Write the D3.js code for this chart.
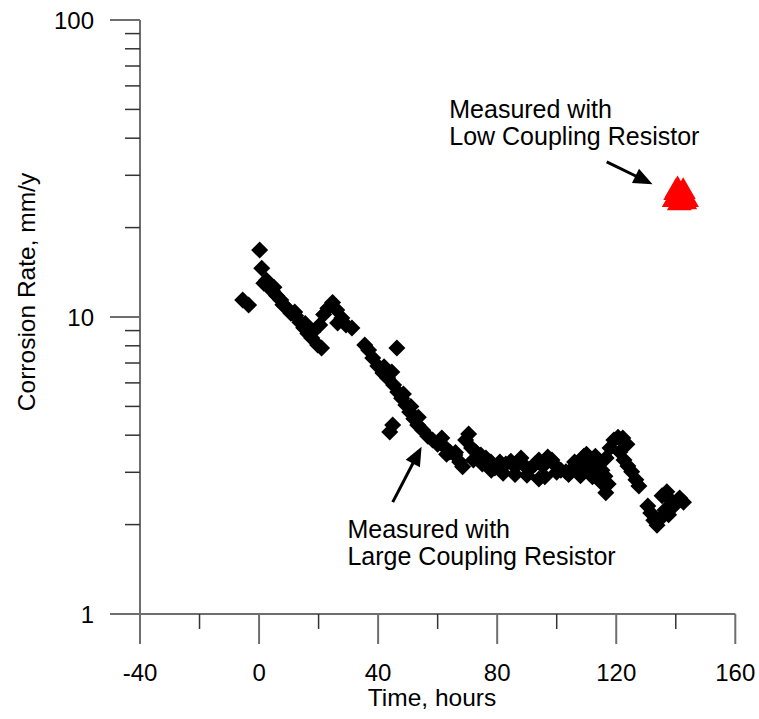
<!DOCTYPE html>
<html><head><meta charset="utf-8">
<script src="https://cdn.jsdelivr.net/npm/d3@7"></script>
<style>body{margin:0;background:#fff}svg{display:block}text{font-family:"Liberation Sans",Arial,sans-serif;fill:#000}</style>
</head><body>
<script>
// Data: time (hours) and corrosion rate (mm/y)
const largeTime = [-5.5,-3.5,0.2,0.9,1.6,3.3,4.6,5.9,7.3,9.0,10.7,12.3,13.7,15.0,16.4,17.7,19.7,21.0,20.4,21.7,23.1,24.7,26.1,27.8,29.2,31.2,26.4,35.5,36.8,38.2,39.9,41.6,43.2,44.6,46.3,44.9,43.9,45.2,46.6,47.9,49.3,50.6,52.0,53.3,55.0,56.7,58.3,60.0,61.4,62.7,64.1,65.8,67.4,68.4,69.4,70.4,71.4,72.8,74.5,76.2,77.9,79.2,80.9,82.9,84.6,86.0,87.6,89.3,91.0,92.7,94.0,95.3,96.7,98.4,99.7,101.4,103.1,104.7,106.4,107.7,109.1,110.1,111.1,112.4,113.8,115.2,116.2,117.3,116.6,117.9,119.2,120.6,122.2,123.6,121.2,122.6,123.9,125.2,126.6,127.6,130.6,131.6,132.6,133.7,135.0,136.4,135.4,137.0,138.3,139.7,137.6,141.3,142.6,116.5,115.2,
  2.5,5.0,8.0,12.0,15.5,18.0,42.0,48.5,51.0,53.5,63.0,66.0,72.0,75.0,78.0,82.0,86.0,90.0,94.0,96.0,100.0,104.0,108.0,112.0,88.0,97.0,106.0,110.0,113.0];
const largeRate = [11.4,10.97,16.8,14.6,13.0,12.6,12.2,11.8,11.4,10.8,10.3,10.1,9.6,9.2,8.8,8.5,8.05,7.87,9.4,10.2,10.7,11.2,10.56,9.92,9.4,9.19,9.55,8.05,7.74,7.28,6.84,6.48,6.23,6.53,7.86,4.33,4.10,5.90,5.59,5.33,5.05,4.79,4.54,4.33,4.16,3.97,3.85,3.73,3.91,3.62,3.51,3.43,3.25,3.13,3.85,4.04,3.62,3.51,3.43,3.35,3.25,3.10,3.25,3.20,3.27,3.13,3.25,3.15,3.08,3.20,3.30,3.15,3.25,3.30,3.15,3.05,3.01,3.05,3.10,3.25,3.40,3.15,3.01,3.30,3.15,3.05,2.91,2.74,3.35,3.62,3.85,3.94,3.91,3.73,3.51,3.30,3.15,3.01,2.83,2.70,2.31,2.19,2.07,1.99,2.10,2.24,2.50,2.58,2.42,2.33,2.16,2.46,2.38,2.56,2.76,
  13.3,12.6,11.0,10.4,9.5,8.9,6.8,5.5,5.0,4.6,3.45,3.5,3.3,3.2,3.05,2.98,2.95,2.93,2.85,2.9,3.0,2.95,2.92,2.9,3.35,3.38,3.25,3.45,3.4];
const lowTime = [139.5,140.0,140.6,141.2,141.8,142.5,143.0,143.6];
const lowRate = [24.8,26.2,26.8,24.2,25.6,26.4,24.4,24.8];
const xTicks = [-40,0,40,80,120,160];
const xMinor = [-20,20,60,100,140];
const yTicks = [1,10,100];
const yTickLabels = ["1","10","100"];
const xTitle = "Time, hours";
const yTitle = "Corrosion Rate, mm/y";
const annotations = [
  {lines:["Measured with","Low Coupling Resistor"], tx:63.9, ty:46.9, from:[116.8,33.3], to:[132.2,28.0]},
  {lines:["Measured with","Large Coupling Resistor"], tx:29.7, ty:1.80, from:[44.9,2.38], to:[54.6,3.66]}
];

const W=759,H=719;
const svg=d3.select("body").append("svg").attr("width",W).attr("height",H);
const x=d3.scaleLinear().domain([-40,160]).range([140,735.3]);
const y=d3.scaleLog().domain([1,100]).range([614,20]);

const axisColor="#6e6e6e";
const yMinor=[];
for(const d of [1,10]) for(let k=2;k<=9;k++) yMinor.push(d*k);
svg.append("line").attr("x1",x(-40)).attr("x2",x(-40)).attr("y1",y(100)).attr("y2",y(1)+30)
  .attr("stroke",axisColor).attr("stroke-width",2);
svg.append("line").attr("x1",x(-40)-30).attr("x2",x(160)).attr("y1",y(1)).attr("y2",y(1))
  .attr("stroke",axisColor).attr("stroke-width",2);
svg.selectAll(".ymaj").data(yTicks).enter().append("line")
  .attr("x1",x(-40)-30).attr("x2",x(-40)).attr("y1",d=>y(d)).attr("y2",d=>y(d))
  .attr("stroke",axisColor).attr("stroke-width",2);
svg.selectAll(".ymin").data(yMinor).enter().append("line")
  .attr("x1",x(-40)-15).attr("x2",x(-40)).attr("y1",d=>y(d)).attr("y2",d=>y(d))
  .attr("stroke","#333").attr("stroke-width",1.5);
svg.selectAll(".ylab").data(yTicks).enter().append("text")
  .attr("x",x(-40)-46).attr("y",d=>y(d)+8.5).attr("text-anchor","end")
  .style("font-size","24px").text((d,i)=>yTickLabels[i]);
svg.selectAll(".xmaj").data(xTicks).enter().append("line")
  .attr("x1",d=>x(d)).attr("x2",d=>x(d)).attr("y1",y(1)).attr("y2",y(1)+30)
  .attr("stroke",axisColor).attr("stroke-width",2);
svg.selectAll(".xmin").data(xMinor).enter().append("line")
  .attr("x1",d=>x(d)).attr("x2",d=>x(d)).attr("y1",y(1)).attr("y2",y(1)+15)
  .attr("stroke","#333").attr("stroke-width",1.5);
svg.selectAll(".xlab").data(xTicks).enter().append("text")
  .attr("x",d=>x(d)).attr("y",y(1)+67).attr("text-anchor","middle")
  .style("font-size","24px").text(d=>d);
svg.append("text").attr("x",432).attr("y",706).attr("text-anchor","middle")
  .style("font-size","24.5px").text(xTitle);
svg.append("text").attr("transform","translate(35,292) rotate(-90)").attr("text-anchor","middle")
  .style("font-size","24.5px").text(yTitle);

// data
const large=largeTime.map((t,i)=>({t,v:largeRate[i]}));
const low=lowTime.map((t,i)=>({t,v:lowRate[i]}));
const dia="M0,-8.5L8.5,0L0,8.5L-8.5,0Z";
svg.append("g").selectAll("path").data(large).enter().append("path")
  .attr("d",dia).attr("transform",d=>`translate(${x(d.t)},${y(d.v)})`).attr("fill","#000");
svg.append("g").selectAll("path").data(low).enter().append("path")
  .attr("d",d3.symbol().type(d3.symbolTriangle).size(270))
  .attr("transform",d=>`translate(${x(d.t)},${y(d.v)})`).attr("fill","#ff0000");

// annotations
annotations.forEach(a=>{
  const tx=svg.append("text").attr("x",x(a.tx)).attr("y",y(a.ty)).style("font-size","25px");
  a.lines.forEach((l,i)=>tx.append("tspan").attr("x",x(a.tx)).attr("dy",i?27:0).text(l));
  const x1=x(a.from[0]),y1=y(a.from[1]),x2=x(a.to[0]),y2=y(a.to[1]);
  const dx=x2-x1,dy=y2-y1,L=Math.hypot(dx,dy),ux=dx/L,uy=dy/L;
  const hl=19,hw=8;
  const bx=x2-ux*hl,by=y2-uy*hl;
  svg.append("line").attr("x1",x1).attr("y1",y1).attr("x2",bx+ux*2).attr("y2",by+uy*2)
    .attr("stroke","#000").attr("stroke-width",3);
  svg.append("path").attr("d",`M${x2},${y2}L${bx-uy*hw},${by+ux*hw}L${bx+uy*hw},${by-ux*hw}Z`)
    .attr("fill","#000");
});
</script>
</body></html>
